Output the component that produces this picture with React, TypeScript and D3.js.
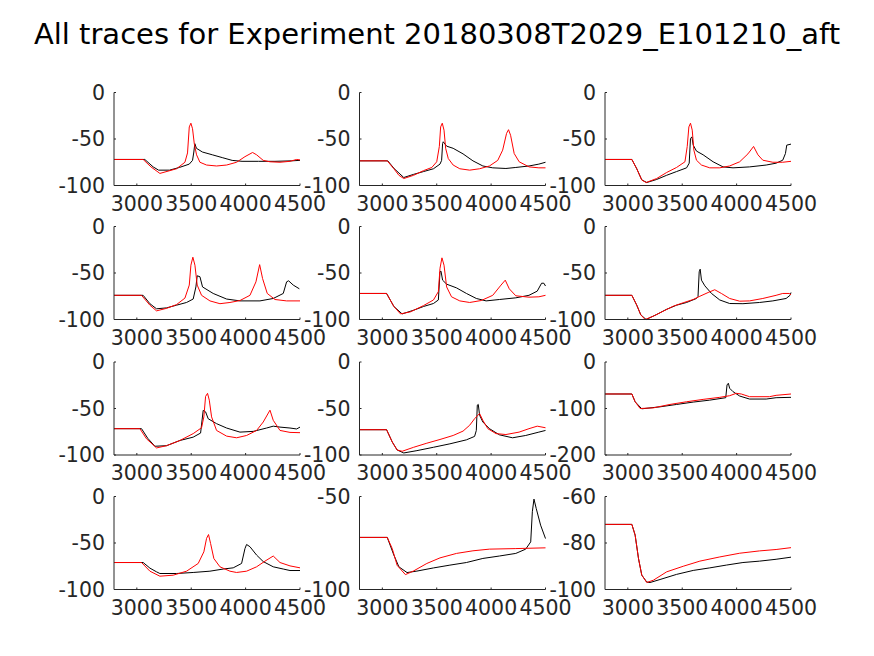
import React from "react";
import * as d3 from "d3";

type Pt = [number, number];

const TITLE = "All traces for Experiment 20180308T2029_E101210_aft";
const X_DOMAIN: [number, number] = [2790, 4500];
const X_TICKS = [3000, 3500, 4000, 4500];

const Y_DOMAINS: [number, number][] = [
  [-100, 0], [-100, 0], [-100, 0],
  [-100, 0], [-100, 0], [-100, 0],
  [-100, 0], [-100, 0], [-200, 0],
  [-100, 0], [-100, -50], [-100, -60],
];
const Y_TICKS: number[][] = [
  [-100, -50, 0], [-100, -50, 0], [-100, -50, 0],
  [-100, -50, 0], [-100, -50, 0], [-100, -50, 0],
  [-100, -50, 0], [-100, -50, 0], [-200, -100, 0],
  [-100, -50, 0], [-100, -50], [-100, -80, -60],
];

const p1Black: Pt[] = [[2790,-72],[3073,-72],[3150,-80],[3200,-83.5],[3300,-83.5],[3391,-80.6],[3482,-77],[3512,-73],[3524,-64],[3533,-55],[3548,-60],[3603,-64],[3694,-67],[3785,-70],[3876,-73],[3967,-74],[4118,-74],[4270,-74],[4421,-73.5],[4500,-73]];
const p1Red: Pt[] = [[2790,-72],[3058,-72],[3130,-80],[3212,-87],[3365,-82],[3442,-75],[3466,-65],[3482,-37],[3497,-33],[3512,-39],[3528,-55],[3549,-67],[3580,-75],[3641,-78],[3733,-79],[3825,-78],[3917,-75],[3994,-69],[4064,-64.5],[4101,-67],[4162,-73],[4224,-74.5],[4316,-75],[4408,-74],[4469,-72],[4500,-72.5]];

const p2Black: Pt[] = [[2790,-73.5],[3050,-73.5],[3110,-82],[3197,-91.4],[3288,-88],[3379,-85],[3470,-82],[3530,-77],[3545,-73],[3554,-55],[3560,-53],[3591,-57.7],[3651,-60],[3742,-66],[3833,-73.5],[3924,-79],[4015,-81],[4136,-81.7],[4227,-80.6],[4349,-79],[4439,-77],[4500,-75]];
const p2Red: Pt[] = [[2790,-73.5],[3045,-73.5],[3106,-82],[3152,-89],[3197,-92.5],[3288,-89],[3379,-84],[3455,-80.6],[3500,-74.5],[3524,-58],[3536,-37],[3551,-33],[3567,-40.5],[3582,-60],[3606,-71],[3651,-78],[3712,-82],[3803,-83.5],[3894,-82],[3985,-79],[4061,-73],[4106,-62],[4142,-44],[4160,-40],[4179,-46],[4212,-65.6],[4258,-74.5],[4349,-80],[4439,-81],[4500,-81]];

const p3Black: Pt[] = [[2790,-72],[3037,-72],[3082,-82],[3128,-94],[3174,-96.8],[3265,-93.5],[3357,-89],[3448,-85],[3540,-81],[3564,-76],[3576,-49.5],[3589,-47.7],[3601,-56.6],[3631,-63],[3692,-67],[3784,-74.5],[3875,-80],[3967,-81],[4119,-80],[4272,-78],[4363,-76],[4424,-72.8],[4449,-65.6],[4461,-56.6],[4500,-55.5]];
const p3Red: Pt[] = [[2790,-72],[3037,-72],[3082,-82],[3128,-94],[3168,-96.8],[3265,-92.5],[3357,-86],[3448,-80.6],[3525,-74.5],[3546,-58],[3561,-37],[3576,-33],[3592,-40.5],[3607,-62],[3631,-72.8],[3677,-78],[3753,-81],[3845,-81],[3936,-79],[4028,-74.5],[4104,-66],[4156,-58],[4196,-67],[4241,-72.8],[4333,-75],[4424,-75],[4500,-74]];

const p4Black: Pt[] = [[2790,-74],[3058,-74],[3120,-83],[3181,-88.5],[3273,-87.5],[3365,-84.6],[3457,-81.7],[3518,-78],[3543,-65],[3555,-53],[3580,-54],[3604,-65],[3702,-72],[3825,-78],[3948,-80],[4132,-80],[4254,-77.4],[4346,-72],[4377,-59.5],[4395,-58.4],[4438,-63],[4494,-67]];
const p4Red: Pt[] = [[2790,-74],[3043,-74],[3120,-84.6],[3181,-90.7],[3273,-88],[3365,-84],[3442,-77],[3482,-63],[3497,-41.6],[3515,-33],[3534,-41.6],[3555,-63],[3595,-74],[3672,-80],[3764,-83],[3856,-81.7],[3948,-79.6],[4040,-74],[4095,-59.5],[4129,-41],[4156,-56],[4199,-72],[4270,-78.5],[4377,-80],[4500,-80]];

const p5Black: Pt[] = [[2790,-72],[3039,-72],[3106,-86],[3182,-94],[3288,-90],[3379,-86],[3470,-82.8],[3515,-79],[3530,-48.7],[3539,-48],[3554,-57.7],[3591,-62],[3682,-66],[3773,-72],[3864,-77.4],[3954,-80],[4076,-78.5],[4227,-76.7],[4348,-74],[4424,-69.5],[4464,-61],[4485,-61],[4500,-64]];
const p5Red: Pt[] = [[2790,-72],[3039,-72],[3106,-86],[3167,-94],[3258,-91.8],[3379,-85],[3470,-79],[3515,-70],[3530,-45],[3548,-33.7],[3567,-41.6],[3591,-65],[3636,-75.6],[3712,-80],[3803,-81.7],[3909,-79.6],[4015,-74],[4091,-63],[4130,-57.7],[4167,-67],[4227,-74.5],[4348,-76],[4439,-75.6],[4500,-74]];

const p6Black: Pt[] = [[2790,-74],[3037,-74],[3082,-84.6],[3119,-95],[3168,-100],[3265,-94.6],[3357,-89],[3448,-84.6],[3540,-81.7],[3631,-77.4],[3645,-75.5],[3656,-48.7],[3665,-45.9],[3677,-57.7],[3708,-63.8],[3769,-72],[3845,-79],[3936,-82.8],[4058,-83],[4211,-81.7],[4333,-80],[4455,-77.4],[4491,-74],[4500,-71]];
const p6Red: Pt[] = [[2790,-74],[3037,-74],[3082,-84.6],[3119,-95],[3159,-100],[3235,-96.4],[3326,-91],[3418,-85.7],[3509,-82],[3601,-78.5],[3662,-75],[3738,-71],[3799,-68],[3860,-72],[3936,-77.4],[4028,-80.3],[4119,-80],[4241,-77.4],[4363,-74],[4424,-72],[4485,-72],[4500,-73.5]];

const p7Black: Pt[] = [[2790,-71.7],[3043,-71.7],[3100,-82],[3166,-90.6],[3273,-90],[3396,-84.4],[3518,-80.8],[3586,-76.4],[3610,-52],[3632,-53.6],[3656,-61],[3733,-66.3],[3825,-71],[3948,-75.4],[4070,-74.6],[4193,-71],[4254,-69],[4316,-70],[4408,-71],[4469,-72],[4500,-70]];
const p7Red: Pt[] = [[2790,-71.7],[3028,-71.7],[3089,-82.6],[3181,-92.4],[3273,-90],[3396,-84.4],[3518,-77],[3595,-70.7],[3616,-59],[3632,-37],[3650,-33.7],[3666,-41],[3687,-59],[3733,-73.6],[3825,-79.7],[3917,-81.5],[4009,-79],[4101,-73.6],[4162,-64.5],[4224,-51.8],[4254,-62.7],[4316,-73.6],[4408,-75.7],[4500,-76]];

const p8Black: Pt[] = [[2790,-72.8],[3039,-72.8],[3091,-86],[3136,-94.6],[3197,-97.8],[3318,-95.3],[3470,-91.7],[3621,-88],[3773,-83.7],[3848,-80],[3864,-73.6],[3873,-46.4],[3882,-45.6],[3894,-57.2],[3924,-64.5],[3985,-71.7],[4076,-78.3],[4197,-81.5],[4318,-79],[4439,-75.4],[4500,-73.6]];
const p8Red: Pt[] = [[2790,-72.8],[3039,-72.8],[3091,-86],[3136,-94.6],[3182,-96],[3288,-91.7],[3409,-87.3],[3530,-83.3],[3651,-79],[3742,-74.3],[3803,-68],[3848,-61],[3894,-55.4],[3924,-62.7],[3970,-71.7],[4045,-77],[4136,-78],[4257,-75.4],[4348,-71.7],[4424,-69],[4500,-70.7]];

const p9Black: Pt[] = [[2790,-68.8],[3037,-68.8],[3067,-85.5],[3128,-100.7],[3296,-96.4],[3448,-91.3],[3601,-86.2],[3753,-82],[3900,-76.8],[3912,-49.3],[3924,-45.7],[3936,-56.5],[3967,-63.8],[4028,-73.2],[4119,-79.7],[4272,-79.7],[4363,-76.8],[4500,-76]];
const p9Red: Pt[] = [[2790,-68.8],[3037,-68.8],[3067,-85.5],[3113,-100],[3235,-98.6],[3387,-91.3],[3540,-85.5],[3692,-80.4],[3845,-76],[3936,-72.5],[3997,-67.4],[4043,-68.8],[4119,-74.6],[4302,-74.6],[4363,-71.7],[4500,-68.8]];

const p10Black: Pt[] = [[2790,-71],[3058,-71],[3120,-77],[3181,-81],[3212,-82.8],[3365,-82.8],[3518,-81.7],[3672,-80.3],[3794,-78],[3886,-76.7],[3963,-72],[3994,-56],[4009,-51.6],[4040,-54],[4101,-63],[4162,-70],[4254,-75.6],[4346,-78],[4408,-79.6],[4500,-79.6]];
const p10Red: Pt[] = [[2790,-71],[3043,-71],[3120,-80.3],[3212,-85.7],[3334,-84.6],[3457,-80.3],[3564,-72],[3616,-59.5],[3641,-45],[3659,-40.9],[3678,-50.5],[3708,-66.7],[3764,-75.6],[3856,-80.3],[3917,-81.7],[4009,-80.3],[4101,-75.6],[4178,-69.5],[4254,-64],[4316,-71],[4408,-74.6],[4500,-76.7]];

const p11Black: Pt[] = [[2790,-72],[3045,-72],[3106,-81.5],[3152,-87.8],[3227,-90.9],[3318,-90.1],[3470,-88.4],[3621,-86.9],[3773,-85.5],[3924,-83.3],[4076,-82],[4227,-80.6],[4318,-78.3],[4364,-74.4],[4379,-58.2],[4394,-51.4],[4415,-56.5],[4455,-65.4],[4500,-72.6]];
const p11Red: Pt[] = [[2790,-72],[3045,-72],[3091,-78],[3136,-87],[3212,-92],[3288,-90],[3409,-86],[3530,-83],[3682,-80.6],[3833,-79.2],[3985,-78.3],[4227,-78],[4500,-77.6]];

const p12Black: Pt[] = [[2790,-72],[3037,-72],[3067,-76.6],[3098,-86.7],[3128,-93.8],[3174,-96.8],[3204,-97],[3296,-95.7],[3448,-93.5],[3601,-91.8],[3753,-90.7],[3906,-89.5],[4058,-88.4],[4211,-87.8],[4363,-87],[4500,-86.1]];
const p12Red: Pt[] = [[2790,-72],[3037,-72],[3067,-76.6],[3098,-86.7],[3128,-93.8],[3174,-97],[3235,-96],[3357,-92.4],[3509,-90],[3662,-87.8],[3845,-86],[4028,-84.4],[4211,-83.4],[4363,-82.8],[4500,-82]];

const BLACK = [p1Black, p2Black, p3Black, p4Black, p5Black, p6Black, p7Black, p8Black, p9Black, p10Black, p11Black, p12Black];
const RED = [p1Red, p2Red, p3Red, p4Red, p5Red, p6Red, p7Red, p8Red, p9Red, p10Red, p11Red, p12Red];

const W = 874;
const H = 656;
const COL_LEFT = [114, 359.5, 605];
const PW = 186;
const ROW_TOP = [92.5, 226.5, 362, 496.5];
const PH = 93;
const AX = "#262626";
const FONT = "DejaVu Sans, sans-serif";

function Panel({ idx }: { idx: number }) {
  const r = Math.floor(idx / 3);
  const c = idx % 3;
  const left = COL_LEFT[c];
  const top = ROW_TOP[r];
  const x = d3.scaleLinear().domain(X_DOMAIN).range([left, left + PW]);
  const y = d3.scaleLinear().domain(Y_DOMAINS[idx]).range([top + PH, top]);
  const line = d3.line<Pt>().x((d) => x(d[0])).y((d) => y(d[1]));
  const clipId = `clip${idx}`;
  const tl = 2;
  return (
    <g>
      <defs>
        <clipPath id={clipId}>
          <rect x={left} y={top - 1} width={PW + 1} height={PH + 2} />
        </clipPath>
      </defs>
      <g clipPath={`url(#${clipId})`} fill="none" strokeWidth={1}>
        <path d={line(BLACK[idx]) || ""} stroke="#000" />
        <path d={line(RED[idx]) || ""} stroke="#ff0000" />
      </g>
      <line x1={left} x2={left} y1={top} y2={top + PH} stroke={AX} strokeWidth={1} />
      <line x1={left} x2={left + PW} y1={top + PH} y2={top + PH} stroke={AX} strokeWidth={1} />
      {Y_TICKS[idx].map((t) => (
        <g key={`y${t}`}>
          <line x1={left} x2={left + tl} y1={y(t)} y2={y(t)} stroke={AX} />
          <text x={left - 9} y={y(t)} dy="0.36em" textAnchor="end" fontSize={20.5} fill={AX} fontFamily={FONT}>
            {t}
          </text>
        </g>
      ))}
      {X_TICKS.map((t) => (
        <g key={`x${t}`}>
          <line x1={x(t)} x2={x(t)} y1={top + PH} y2={top + PH - tl} stroke={AX} />
          <text x={x(t)} y={top + PH + 25} textAnchor="middle" fontSize={20.5} fill={AX} fontFamily={FONT}>
            {t}
          </text>
        </g>
      ))}
    </g>
  );
}

export default function App() {
  return (
    <svg width={W} height={H} style={{ position: "absolute", left: 0, top: 0, background: "#fff" }}>
      <rect width={W} height={H} fill="#fff" />
      <text x={W / 2} y={44} textAnchor="middle" fontSize={29} fill="#000" fontFamily={FONT}>
        {TITLE}
      </text>
      {d3.range(12).map((i) => (
        <Panel key={i} idx={i} />
      ))}
    </svg>
  );
}
